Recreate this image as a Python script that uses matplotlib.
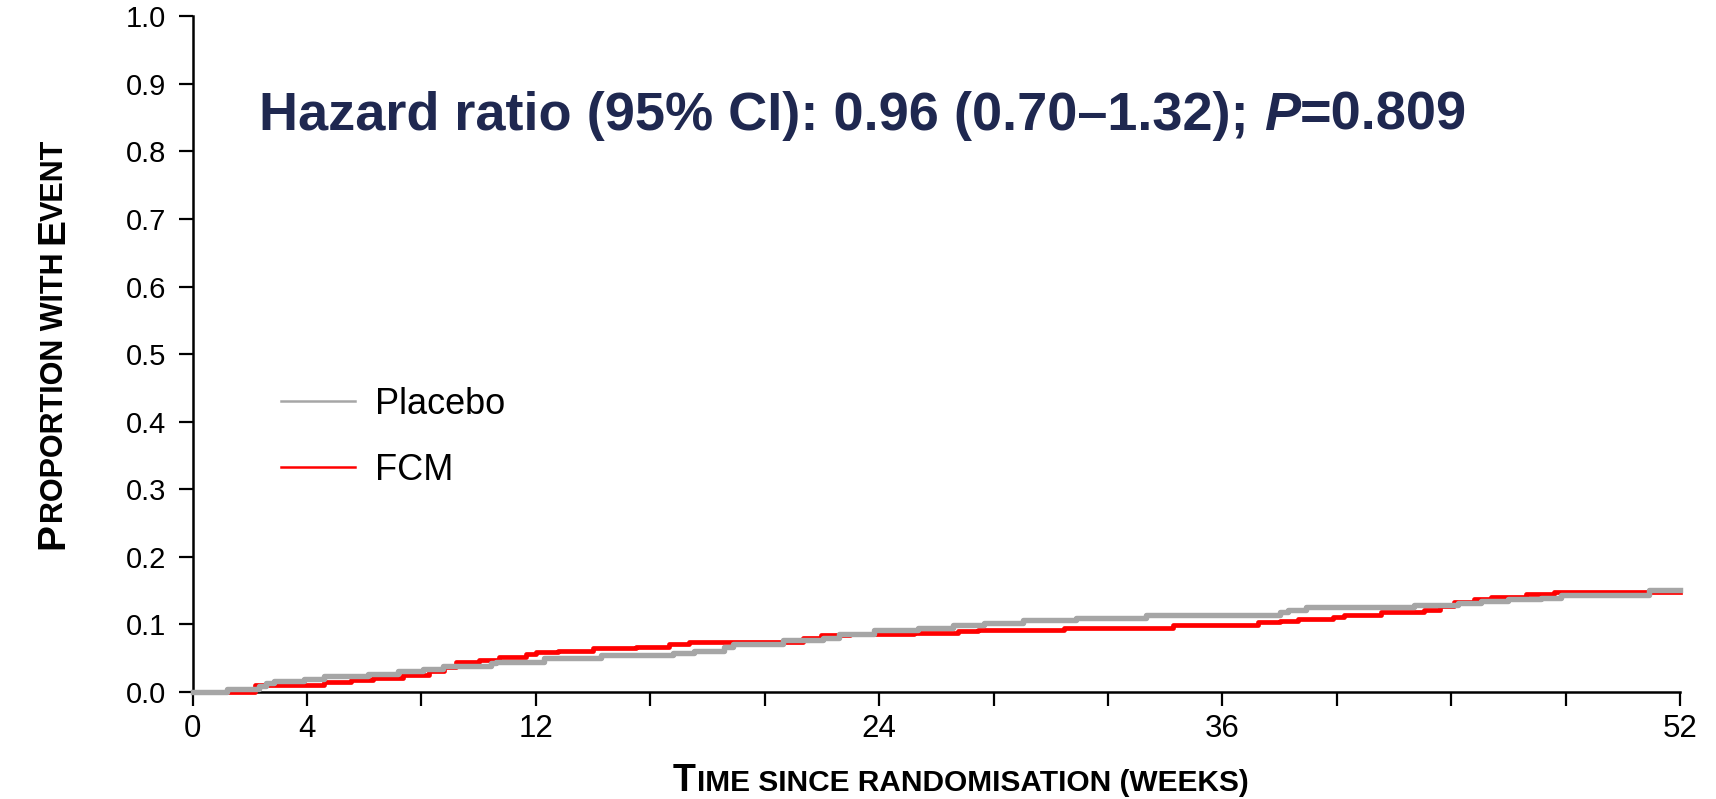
import matplotlib
matplotlib.use("Agg")
import matplotlib.pyplot as plt
from matplotlib import font_manager
from matplotlib.lines import Line2D

# Kaplan-Meier style step data (weeks, cumulative proportion with event)
placebo_weeks = [0, 1.22, 2.33, 2.56, 2.85, 3.90, 4.60, 6.12, 7.17, 8.04, 8.74, 10.43, 10.60,
                 12.29, 14.29, 16.78, 17.54, 18.59, 18.88, 20.63, 22.03, 22.61, 23.83, 25.35,
                 26.58, 27.68, 29.02, 30.89, 33.34, 38.0, 38.29, 38.92, 42.71, 44.23, 45.04,
                 45.98, 47.14, 47.84, 50.93, 52]
placebo_prop = [0, 0.004, 0.0085, 0.0125, 0.016, 0.0194, 0.023, 0.0264, 0.030, 0.034, 0.038,
                0.042, 0.044, 0.050, 0.054, 0.057, 0.060, 0.066, 0.071, 0.076, 0.080, 0.086,
                0.091, 0.095, 0.0985, 0.102, 0.1055, 0.1095, 0.1134, 0.118, 0.121, 0.125,
                0.128, 0.131, 0.134, 0.137, 0.139, 0.143, 0.150, 0.150]

fcm_weeks = [0, 2.18, 4.60, 5.53, 6.29, 7.34, 8.27, 8.80, 9.21, 10.02, 10.72, 11.65, 12.0,
             12.76, 14.0, 15.5, 16.66, 17.36, 21.33, 21.97, 23.0, 25.23, 26.75, 27.45, 30.48,
             34.27, 37.24, 38.0, 38.63, 39.86, 40.26, 41.55, 43.06, 43.6, 44.11, 44.81, 45.39,
             46.62, 47.61, 52]
fcm_prop = [0, 0.010, 0.015, 0.017, 0.020, 0.024, 0.031, 0.037, 0.044, 0.047, 0.051, 0.056,
            0.059, 0.061, 0.064, 0.066, 0.070, 0.073, 0.080, 0.084, 0.085, 0.087, 0.0896,
            0.091, 0.094, 0.099, 0.103, 0.105, 0.107, 0.110, 0.113, 0.118, 0.121, 0.127,
            0.133, 0.137, 0.140, 0.144, 0.147, 0.147]

x_ticks = list(range(0, 53, 4))
x_labeled = [0, 4, 12, 24, 36, 52]
y_ticks = [i / 10 for i in range(11)]
series_names = ["Placebo", "FCM"]
title_parts = [("Hazard ratio (95% CI): 0.96 (0.70\u20131.32); ", "normal"),
               ("P", "italic"), ("=0.809", "normal")]

W, H = 1716, 799
REG = "Liberation Sans"
names = {f.name for f in font_manager.fontManager.ttflist}
NARROW = "Liberation Sans Narrow" if "Liberation Sans Narrow" in names else None
plt.rcParams["font.family"] = [REG, "DejaVu Sans"]

fig = plt.figure(figsize=(W / 100, H / 100), dpi=100)
ax = fig.add_axes([192.6 / W, 1 - 691.7 / H, (1680 - 192.6) / W, (691.7 - 16.4) / H])

ax.step(fcm_weeks, fcm_prop, where="post", color="#ff0000", lw=3.4, clip_on=False, zorder=3)
ax.step(placebo_weeks, placebo_prop, where="post", color="#a6a6a6", lw=3.9, clip_on=False, zorder=4)

ax.set_xlim(0, 52)
ax.set_ylim(0, 1)
for s in ["top", "right"]:
    ax.spines[s].set_visible(False)
for s in ["left", "bottom"]:
    ax.spines[s].set_linewidth(1.8)

ax.set_xticks(x_ticks)
ax.set_xticklabels([str(t) if t in x_labeled else "" for t in x_ticks])
ax.set_yticks(y_ticks)
ax.set_yticklabels([f"{v:.1f}" for v in y_ticks])
ax.tick_params(axis="both", direction="out", length=10, width=1.6, color="black")
ax.tick_params(axis="y", labelsize=21, pad=9)
if NARROW:
    ax.tick_params(axis="x", labelsize=25, pad=6)
    for lab in ax.get_xticklabels():
        lab.set_family(NARROW)
else:
    ax.tick_params(axis="x", labelsize=22.5, pad=6)

# legend
handles = [Line2D([], [], color="#a6a6a6", lw=1.8), Line2D([], [], color="#ff0000", lw=1.8)]
ax.legend(handles, series_names, loc="upper left", bbox_to_anchor=(281 / W, 1 - 387 / H),
          bbox_transform=fig.transFigure, frameon=False, fontsize=26, borderpad=0,
          borderaxespad=0, handlelength=2.05, handletextpad=0.55, labelspacing=0.86)

renderer = fig.canvas.get_renderer()


def piece_width(txt, size, family, style):
    # bars on both sides so spaces count and no kerning pairs distort the width
    t = fig.text(0, 0, "|" + txt + "|", fontsize=size, fontweight="bold", family=family, style=style)
    w1 = t.get_window_extent(renderer).width
    t.set_text("||")
    w2 = t.get_window_extent(renderer).width
    t.remove()
    return w1 - w2


def draw_pieces(pieces, x0, y0, rotation, color, family, center=None):
    # pieces: (text, size, style, nudge in px)
    widths = [piece_width(p[0], p[1], family, p[2]) for p in pieces]
    total = sum(widths)
    pos = 0 if center is None else center - total / 2
    for (txt, size, style, nudge), w in zip(pieces, widths):
        if rotation == 0:
            fig.text((x0 + pos + nudge) / W, y0 / H, txt, fontsize=size, fontweight="bold",
                     family=family, style=style, color=color, ha="left", va="baseline")
        else:
            fig.text(x0 / W, (y0 + pos + nudge) / H, txt, fontsize=size, fontweight="bold",
                     family=family, style=style, color=color, rotation=90,
                     rotation_mode="anchor", ha="left", va="baseline")
        pos += w


# title with italic P
draw_pieces([(t, 39, st, 0) for t, st in title_parts], 259, H - 130, 0, "#1f2850", [REG])

# y label in small caps
draw_pieces([("P", 28, "normal", 0), ("ROPORTION WITH ", 22, "normal", 0),
             ("E", 28, "normal", 0), ("VENT", 22, "normal", -2.8)],
            63, 0, 90, "black", [REG], center=H - 342.7)

# x label in small caps
if NARROW:
    xfam, xb, xs = [NARROW, REG], 33, 26.5
else:
    xfam, xb, xs = [REG], 27, 21.5
draw_pieces([("T", xb, "normal", 0), ("IME SINCE RANDOMISATION (WEEKS)", xs, "normal", 1)],
            0, 8, 0, "black", xfam, center=960)

fig.savefig("out.png", dpi=100)
